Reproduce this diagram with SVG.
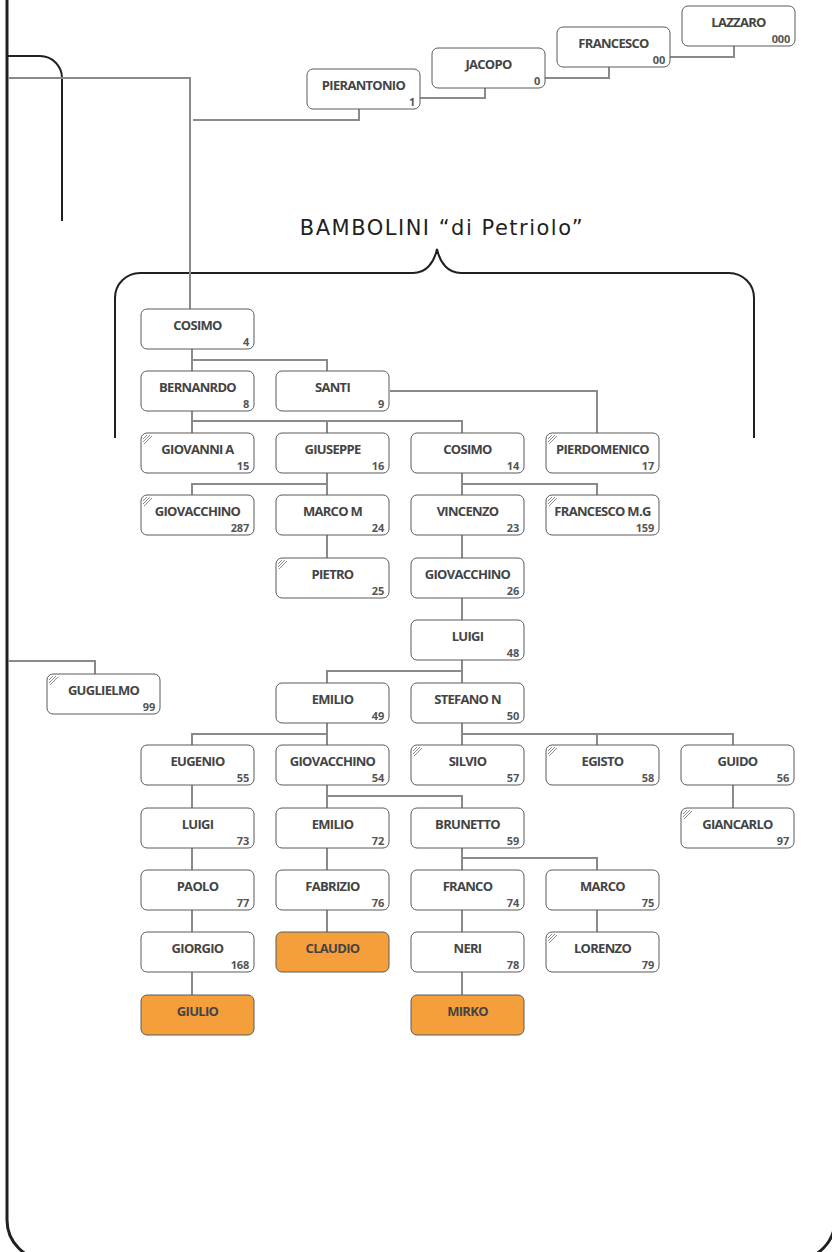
<svg xmlns="http://www.w3.org/2000/svg" width="832" height="1252" viewBox="0 0 832 1252">
<style>
.n rect{fill:#fff;stroke:#5a5a5a;stroke-width:1}
.n.o rect{fill:#f59e3c}
.nm{font-family:"Open Sans","Liberation Sans",sans-serif;font-weight:700;font-size:13px;letter-spacing:-0.7px;fill:#444;text-anchor:middle}
.nu{font-family:"Open Sans","Liberation Sans",sans-serif;font-weight:700;font-size:11px;letter-spacing:-0.2px;fill:#555;text-anchor:end}
.c{fill:none;stroke:#8a8a8a;stroke-width:2}
.k{fill:none;stroke:#231f20}
.h{fill:none;stroke:#8a8a8a;stroke-width:1}
.t{font-family:"DejaVu Sans","Noto Sans",sans-serif;font-size:21px;letter-spacing:1.5px;fill:#231f20;text-anchor:middle}
</style>
<defs>
<path id="hatch" class="h" d="M2,6 L6,2 M2,9 L9,2 M3,11 L11,3"/>
</defs>
<g id="frame">
<rect class="k" x="7" y="-100" width="828" height="1360" rx="40" stroke-width="3"/>
<path class="k" stroke-width="2" d="M8,56 H40 A22,22 0 0 1 62,78 V221"/>
<path class="k" stroke-width="2" d="M115,438 V298 A25,25 0 0 1 140,273 H413 C426,273 434,263 437,249 C440,263 448,273 461,273 H729 A25,25 0 0 1 754,298 V438"/>
<text class="t" x="442" y="235">BAMBOLINI “di Petriolo”</text>
</g>
<g id="connectors">
<path class="c" d="M734,46 V57 H670"/>
<path class="c" d="M609,67 V78 H545"/>
<path class="c" d="M485,88 V98 H420"/>
<path class="c" d="M359,109 V120 H193"/>
<path class="c" d="M8,78 H190 V309"/>
<path class="c" d="M192,349 V371 M192,360 H327 V371"/>
<path class="c" d="M192,411 V433 M192,421 H462 V433 M327,421 V433"/>
<path class="c" d="M390,391 H597 V433"/>
<path class="c" d="M327,473 V495 M327,484 H192 V495"/>
<path class="c" d="M462,473 V495 M462,484 H597 V495"/>
<path class="c" d="M327,535 V558 M462,535 V558 M462,598 V620"/>
<path class="c" d="M462,660 V683 M462,671 H327 V683"/>
<path class="c" d="M8,661 H95 V674"/>
<path class="c" d="M327,723 V745 M327,734 H192 V745"/>
<path class="c" d="M462,723 V745 M462,734 H733 V745 M597,734 V745"/>
<path class="c" d="M192,785 V808 M733,785 V808"/>
<path class="c" d="M327,785 V808 M327,796 H462 V808"/>
<path class="c" d="M192,848 V870 M327,848 V870 M462,848 V870 M462,858 H597 V870"/>
<path class="c" d="M192,910 V932 M327,910 V932 M462,910 V932 M597,910 V932"/>
<path class="c" d="M192,972 V995 M462,972 V995"/>
</g>
<g id="n000" class="n"><rect x="682" y="6" width="113" height="40" rx="6"/><text class="nm" x="738.5" y="27">LAZZARO</text><text class="nu" x="790" y="42.5">000</text></g>
<g id="n00" class="n"><rect x="557" y="27" width="113" height="40" rx="6"/><text class="nm" x="613.5" y="48">FRANCESCO</text><text class="nu" x="665" y="63.5">00</text></g>
<g id="n0" class="n"><rect x="432" y="48" width="113" height="40" rx="6"/><text class="nm" x="488.5" y="69">JACOPO</text><text class="nu" x="540" y="84.5">0</text></g>
<g id="n1" class="n"><rect x="307" y="69" width="113" height="40" rx="6"/><text class="nm" x="363.5" y="90">PIERANTONIO</text><text class="nu" x="415" y="105.5">1</text></g>

<g id="n4" class="n"><rect x="141" y="309" width="113" height="40" rx="6"/><text class="nm" x="197.5" y="330">COSIMO</text><text class="nu" x="249" y="345.5">4</text></g>
<g id="n8" class="n"><rect x="141" y="371" width="113" height="40" rx="6"/><text class="nm" x="197.5" y="392">BERNANRDO</text><text class="nu" x="249" y="407.5">8</text></g>
<g id="n9" class="n"><rect x="276" y="371" width="113" height="40" rx="6"/><text class="nm" x="332.5" y="392">SANTI</text><text class="nu" x="384" y="407.5">9</text></g>

<g id="n15" class="n"><rect x="141" y="433" width="113" height="40" rx="6"/><use href="#hatch" x="141" y="433"/><text class="nm" x="197.5" y="454">GIOVANNI A</text><text class="nu" x="249" y="469.5">15</text></g>
<g id="n16" class="n"><rect x="276" y="433" width="113" height="40" rx="6"/><text class="nm" x="332.5" y="454">GIUSEPPE</text><text class="nu" x="384" y="469.5">16</text></g>
<g id="n14" class="n"><rect x="411" y="433" width="113" height="40" rx="6"/><text class="nm" x="467.5" y="454">COSIMO</text><text class="nu" x="519" y="469.5">14</text></g>
<g id="n17" class="n"><rect x="546" y="433" width="113" height="40" rx="6"/><use href="#hatch" x="546" y="433"/><text class="nm" x="602.5" y="454">PIERDOMENICO</text><text class="nu" x="654" y="469.5">17</text></g>

<g id="n287" class="n"><rect x="141" y="495" width="113" height="40" rx="6"/><use href="#hatch" x="141" y="495"/><text class="nm" x="197.5" y="516">GIOVACCHINO</text><text class="nu" x="249" y="531.5">287</text></g>
<g id="n24" class="n"><rect x="276" y="495" width="113" height="40" rx="6"/><text class="nm" x="332.5" y="516">MARCO M</text><text class="nu" x="384" y="531.5">24</text></g>
<g id="n23" class="n"><rect x="411" y="495" width="113" height="40" rx="6"/><text class="nm" x="467.5" y="516">VINCENZO</text><text class="nu" x="519" y="531.5">23</text></g>
<g id="n159" class="n"><rect x="546" y="495" width="113" height="40" rx="6"/><use href="#hatch" x="546" y="495"/><text class="nm" x="602.5" y="516">FRANCESCO M.G</text><text class="nu" x="654" y="531.5">159</text></g>

<g id="n25" class="n"><rect x="276" y="558" width="113" height="40" rx="6"/><use href="#hatch" x="276" y="558"/><text class="nm" x="332.5" y="579">PIETRO</text><text class="nu" x="384" y="594.5">25</text></g>
<g id="n26" class="n"><rect x="411" y="558" width="113" height="40" rx="6"/><text class="nm" x="467.5" y="579">GIOVACCHINO</text><text class="nu" x="519" y="594.5">26</text></g>

<g id="n48" class="n"><rect x="411" y="620" width="113" height="40" rx="6"/><text class="nm" x="467.5" y="641">LUIGI</text><text class="nu" x="519" y="656.5">48</text></g>

<g id="n99" class="n"><rect x="47" y="674" width="113" height="40" rx="6"/><use href="#hatch" x="47" y="674"/><text class="nm" x="103.5" y="695">GUGLIELMO</text><text class="nu" x="155" y="710.5">99</text></g>
<g id="n49" class="n"><rect x="276" y="683" width="113" height="40" rx="6"/><text class="nm" x="332.5" y="704">EMILIO</text><text class="nu" x="384" y="719.5">49</text></g>
<g id="n50" class="n"><rect x="411" y="683" width="113" height="40" rx="6"/><text class="nm" x="467.5" y="704">STEFANO N</text><text class="nu" x="519" y="719.5">50</text></g>

<g id="n55" class="n"><rect x="141" y="745" width="113" height="40" rx="6"/><text class="nm" x="197.5" y="766">EUGENIO</text><text class="nu" x="249" y="781.5">55</text></g>
<g id="n54" class="n"><rect x="276" y="745" width="113" height="40" rx="6"/><text class="nm" x="332.5" y="766">GIOVACCHINO</text><text class="nu" x="384" y="781.5">54</text></g>
<g id="n57" class="n"><rect x="411" y="745" width="113" height="40" rx="6"/><use href="#hatch" x="411" y="745"/><text class="nm" x="467.5" y="766">SILVIO</text><text class="nu" x="519" y="781.5">57</text></g>
<g id="n58" class="n"><rect x="546" y="745" width="113" height="40" rx="6"/><use href="#hatch" x="546" y="745"/><text class="nm" x="602.5" y="766">EGISTO</text><text class="nu" x="654" y="781.5">58</text></g>
<g id="n56" class="n"><rect x="681" y="745" width="113" height="40" rx="6"/><text class="nm" x="737.5" y="766">GUIDO</text><text class="nu" x="789" y="781.5">56</text></g>

<g id="n73" class="n"><rect x="141" y="808" width="113" height="40" rx="6"/><text class="nm" x="197.5" y="829">LUIGI</text><text class="nu" x="249" y="844.5">73</text></g>
<g id="n72" class="n"><rect x="276" y="808" width="113" height="40" rx="6"/><text class="nm" x="332.5" y="829">EMILIO</text><text class="nu" x="384" y="844.5">72</text></g>
<g id="n59" class="n"><rect x="411" y="808" width="113" height="40" rx="6"/><text class="nm" x="467.5" y="829">BRUNETTO</text><text class="nu" x="519" y="844.5">59</text></g>
<g id="n97" class="n"><rect x="681" y="808" width="113" height="40" rx="6"/><use href="#hatch" x="681" y="808"/><text class="nm" x="737.5" y="829">GIANCARLO</text><text class="nu" x="789" y="844.5">97</text></g>

<g id="n77" class="n"><rect x="141" y="870" width="113" height="40" rx="6"/><text class="nm" x="197.5" y="891">PAOLO</text><text class="nu" x="249" y="906.5">77</text></g>
<g id="n76" class="n"><rect x="276" y="870" width="113" height="40" rx="6"/><text class="nm" x="332.5" y="891">FABRIZIO</text><text class="nu" x="384" y="906.5">76</text></g>
<g id="n74" class="n"><rect x="411" y="870" width="113" height="40" rx="6"/><text class="nm" x="467.5" y="891">FRANCO</text><text class="nu" x="519" y="906.5">74</text></g>
<g id="n75" class="n"><rect x="546" y="870" width="113" height="40" rx="6"/><text class="nm" x="602.5" y="891">MARCO</text><text class="nu" x="654" y="906.5">75</text></g>

<g id="n168" class="n"><rect x="141" y="932" width="113" height="40" rx="6"/><text class="nm" x="197.5" y="953">GIORGIO</text><text class="nu" x="249" y="968.5">168</text></g>
<g id="nClaudio" class="n o"><rect x="276" y="932" width="113" height="40" rx="6"/><text class="nm" x="332.5" y="953">CLAUDIO</text></g>
<g id="n78" class="n"><rect x="411" y="932" width="113" height="40" rx="6"/><text class="nm" x="467.5" y="953">NERI</text><text class="nu" x="519" y="968.5">78</text></g>
<g id="n79" class="n"><rect x="546" y="932" width="113" height="40" rx="6"/><use href="#hatch" x="546" y="932"/><text class="nm" x="602.5" y="953">LORENZO</text><text class="nu" x="654" y="968.5">79</text></g>

<g id="nGiulio" class="n o"><rect x="141" y="995" width="113" height="40" rx="6"/><text class="nm" x="197.5" y="1016">GIULIO</text></g>
<g id="nMirko" class="n o"><rect x="411" y="995" width="113" height="40" rx="6"/><text class="nm" x="467.5" y="1016">MIRKO</text></g>
</svg>
